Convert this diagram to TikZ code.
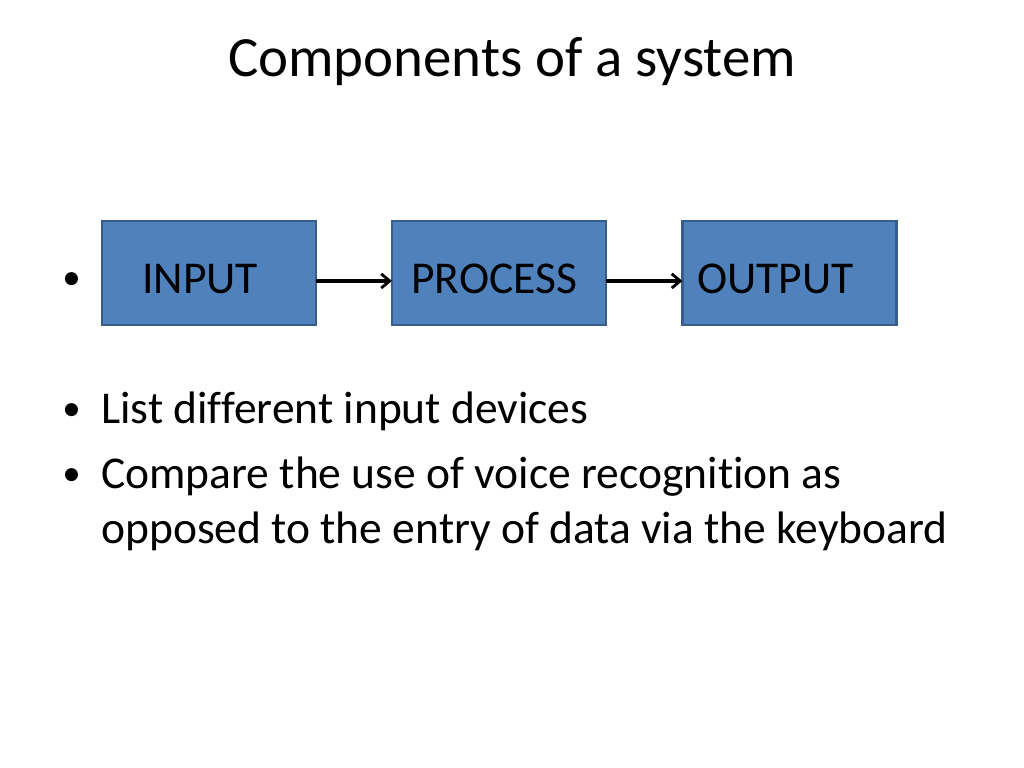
\documentclass[tikz,border=0pt]{standalone}
\usepackage{fontspec}
\setmainfont[Ligatures={NoCommon,NoContextual}]{Carlito}
\usetikzlibrary{arrows.meta}
\definecolor{boxfill}{HTML}{4F81BD}
\definecolor{boxline}{HTML}{385D8A}
\begin{document}
\begin{tikzpicture}[x=0.703125pt, y=-0.703125pt,
  box/.style={draw=boxline, fill=boxfill, line width=1.5pt, minimum width=150.5pt, minimum height=73pt, inner sep=0pt, outer sep=0pt},
  boxtext/.style={anchor=base west, inner sep=0pt, font=\fontsize{32}{38}\selectfont},
  body/.style={anchor=base west, inner sep=0pt, font=\fontsize{32}{38}\selectfont},
  bul/.style={anchor=base west, inner sep=0pt, font=\fontsize{26}{32}\selectfont},
  arr/.style={-{Straight Barb[length=6pt,width=10pt,line width=2pt]}, line width=2.2pt, black}]
\useasboundingbox (0,0) rectangle (1024,768);
\node[anchor=base, inner sep=0pt, font=\fontsize{40}{48}\selectfont] (title) at (512,77) {Components of a system};
\node[box] (in) at (209,273) {};
\node[box] (proc) at (499,273) {};
\node[box] (out) at (789.5,273) {};
\node[boxtext] (tin) at (142,293) {INPUT};
\node[boxtext] (tproc) at (411,293) {PROCESS};
\node[boxtext] (tout) at (697,293) {OUTPUT};
\draw[arr] ([yshift=-5.6pt]in.east) -- ([yshift=-5.6pt]proc.west);
\draw[arr] ([yshift=-5.6pt]proc.east) -- ([yshift=-5.6pt]out.west);
\node[bul] (b0) at (62,290) {•};
\node[bul] (b1) at (62,420) {•};
\node[body] (l1) at (101,423) {List different input devices};
\node[bul] (b2) at (62,485) {•};
\node[body] (l2) at (101,488) {Compare the use of voice recognition as};
\node[body] (l3) at (101,543) {opposed to the entry of data via the keyboard};
\end{tikzpicture}
\end{document}
